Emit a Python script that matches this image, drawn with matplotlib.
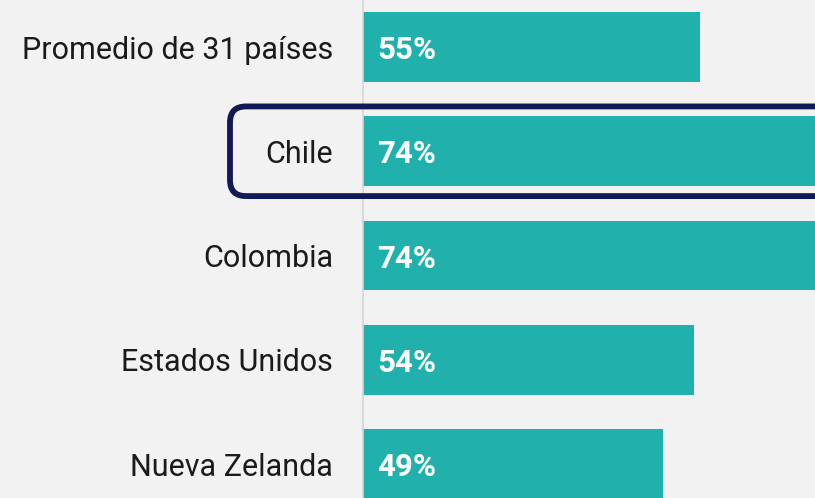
import matplotlib
matplotlib.use("Agg")
import matplotlib.pyplot as plt
from matplotlib.patches import FancyBboxPatch

paises = ["Promedio de 31 países", "Chile", "Colombia", "Estados Unidos", "Nueva Zelanda"]
valores = [55, 74, 74, 54, 49]
destacado = "Chile"

bg = "#f2f2f2"
teal = "#20b1ad"
navy = "#121a55"

plt.rcParams["font.family"] = ["Roboto", "DejaVu Sans"]

fig = plt.figure(figsize=(8.15, 4.98), dpi=100, facecolor=bg)
ax = fig.add_axes([363 / 815, 0, 1 - 363 / 815, 1])
ax.set_facecolor(bg)

pos = list(range(len(paises)))
ax.barh(pos, valores, height=0.67, color=teal, zorder=2)
ax.set_xlim(0, 73.8)
ax.set_ylim(4.326, -0.451)

for i, (p, v) in enumerate(zip(paises, valores)):
    ax.text(-4.9, i + 0.03, p, ha="right", va="center", fontsize=22, color="#1a1a1a")
    ax.text(2.3, i + 0.03, f"{v}%", ha="left", va="center", fontsize=22.5,
            fontweight="bold", color="white", zorder=3)

for s in ["top", "right", "bottom"]:
    ax.spines[s].set_visible(False)
ax.spines["left"].set_color("#d6d6d6")
ax.spines["left"].set_linewidth(1.2)
ax.set_xticks([])
ax.set_yticks([])

# recuadro que destaca a Chile
fig.canvas.draw()
k = paises.index(destacado)
y0 = ax.transData.transform((0, k + 0.43))[1]
y1 = ax.transData.transform((0, k - 0.43))[1]
x0 = 230
box = FancyBboxPatch((x0, y0), 700, y1 - y0, boxstyle="round,pad=0,rounding_size=16",
                     transform=None, fill=False, edgecolor=navy, linewidth=4.2,
                     zorder=5, clip_on=False)
fig.patches.append(box)

fig.savefig("out.png", dpi=100, facecolor=bg)
